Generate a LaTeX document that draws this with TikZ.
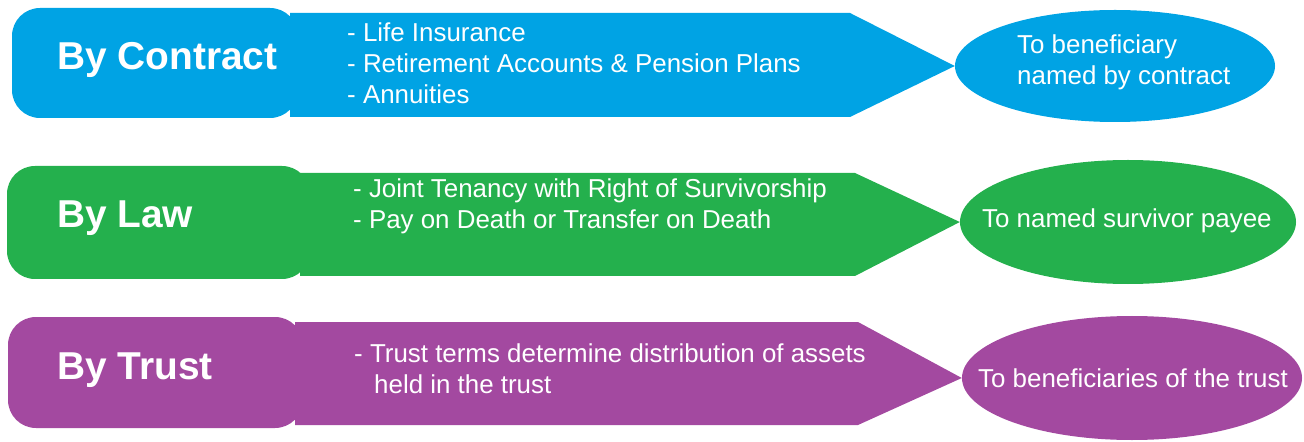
\documentclass[tikz,border=0pt]{standalone}
\usepackage{fontspec}
\setmainfont{Liberation Sans}
\usetikzlibrary{shapes.geometric}
\definecolor{contractblue}{RGB}{0,163,228}
\definecolor{lawgreen}{RGB}{36,176,77}
\definecolor{trustpurple}{RGB}{163,73,160}

\begin{document}
\begin{tikzpicture}[x=1bp,y=-1bp,
	titletext/.style={anchor=west,text=white,inner sep=0pt,font=\fontsize{39}{42}\selectfont\bfseries},
	listtext/.style={anchor=west,text=white,inner sep=0pt,align=left,font=\fontsize{26}{31}\selectfont},
	endpoint/.style={ellipse,fill=#1,inner sep=0pt}]
	\useasboundingbox (0,0) rectangle (1304,442);

	% by contract
	\node[endpoint=contractblue,minimum width=320bp,minimum height=112bp] (contract) at (1115,66) {};
	\fill[contractblue,rounded corners=28bp] (12,8) rectangle (298,118);
	\fill[contractblue] (290,13) -- (850,13) -- (contract.west) -- (850,117) -- (290,117) -- cycle;
	\node[titletext] (contracttitle) at (57,60) {By Contract};
	\node[listtext] (contractlist) at (347,63) {- Life Insurance\\- Retirement Accounts \& Pension Plans\\- Annuities};
	\node[listtext] (contractto) at (1017,62) {To beneficiary\\named by contract};

	% by law
	\node[endpoint=lawgreen,minimum width=336bp,minimum height=124bp] (law) at (1128,222) {};
	\fill[lawgreen,rounded corners=28bp] (7,166) rectangle (310,279);
	\fill[lawgreen] (300,173) -- (855,173) -- (law.west) -- (855,276) -- (300,276) -- cycle;
	\node[titletext] (lawtitle) at (57,218) {By Law};
	\node[listtext] (lawlist) at (353,206) {- Joint Tenancy with Right of Survivorship\\- Pay on Death or Transfer on Death};
	\node[listtext] (lawto) at (982,221) {To named survivor payee};

	% by trust
	\node[endpoint=trustpurple,minimum width=340bp,minimum height=124bp] (trust) at (1132,378) {};
	\fill[trustpurple,rounded corners=28bp] (8,317) rectangle (303,428);
	\fill[trustpurple] (295,322) -- (858,322) -- (trust.west) -- (858,425) -- (295,425) -- cycle;
	\node[titletext] (trusttitle) at (57,370) {By Trust};
	\node[listtext] (trustlist) at (354,369) {- Trust terms determine distribution of assets\\\hspace*{20bp}held in the trust};
	\node[listtext] (trustto) at (978,378) {To beneficiaries of the trust};
\end{tikzpicture}
\end{document}
